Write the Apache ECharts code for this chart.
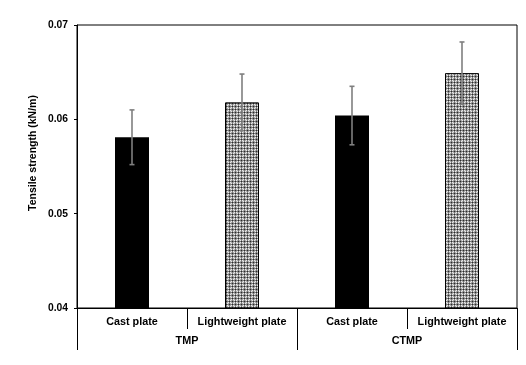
<!DOCTYPE html>
<html>
<head>
<meta charset="utf-8">
<script src="https://cdn.jsdelivr.net/npm/echarts@6/dist/echarts.min.js"></script>
<style>html,body{margin:0;padding:0;background:#fff;}#c{width:526px;height:365px;}</style>
</head>
<body>
<div id="c"></div>
<script>
var categories = ['Cast plate', 'Lightweight plate', 'Cast plate', 'Lightweight plate'];
var groups = ['TMP', 'CTMP'];
var values = [0.0581, 0.0618, 0.0604, 0.0649];
var errors = [0.0029, 0.0030, 0.0031, 0.0033];
var yTicks = [0.04, 0.05, 0.06, 0.07];
var yName = 'Tensile strength (kN/m)';

var FONT = 'Liberation Sans, Arial, sans-serif';

function makePattern() {
  var c = document.createElement('canvas');
  c.width = 6; c.height = 6;
  var ctx = c.getContext('2d');
  for (var i = 0; i < 6; i++) {
    for (var j = 0; j < 6; j++) {
      var col;
      if ((i % 3 === 1) && (j % 3 === 1)) col = '#2a2a2a';
      else if (i % 3 === 1 || j % 3 === 1) col = '#7a7a7a';
      else if ((i + j) % 2 === 0) col = '#e8e8e8';
      else col = '#b0b0b0';
      ctx.fillStyle = col;
      ctx.fillRect(i, j, 1, 1);
    }
  }
  return c;
}
var pattern = { image: makePattern(), repeat: 'repeat' };

var barData = values.map(function (v, i) {
  var light = categories[i].indexOf('Lightweight') === 0;
  return {
    value: v,
    itemStyle: light
      ? { color: pattern, borderColor: '#000', borderWidth: 1 }
      : { color: '#000' }
  };
});
var errData = values.map(function (v, i) { return [i, v - errors[i], v + errors[i]]; });

var chart = echarts.init(document.getElementById('c'), null, { renderer: 'canvas' });
chart.setOption({
  animation: false,
  backgroundColor: '#fff',
  grid: { left: 77, right: 9, top: 25, bottom: 57, show: true, borderColor: '#000', borderWidth: 1 },
  xAxis: [
    {
      type: 'category', data: categories, position: 'bottom',
      axisLine: { show: true, lineStyle: { color: '#000', width: 1 } },
      axisTick: { show: true, length: 21, alignWithLabel: false, lineStyle: { color: '#000', width: 1 } },
      axisLabel: { color: '#000', fontFamily: FONT, fontWeight: 'bold', fontSize: 10.8, margin: 9, interval: 0 },
      splitLine: { show: false }
    },
    {
      type: 'category', data: groups, position: 'bottom', offset: 0,
      axisLine: { show: false },
      axisTick: { show: true, length: 42, alignWithLabel: false, lineStyle: { color: '#000', width: 1 } },
      axisLabel: { color: '#000', fontFamily: FONT, fontWeight: 'bold', fontSize: 10.8, margin: 28, interval: 0 },
      splitLine: { show: false }
    }
  ],
  yAxis: {
    type: 'value', min: yTicks[0], max: yTicks[yTicks.length - 1], interval: 0.01,
    axisLine: { show: true, lineStyle: { color: '#000', width: 1 } },
    axisTick: { show: true, length: 3, lineStyle: { color: '#000' } },
    axisLabel: { color: '#000', fontFamily: FONT, fontWeight: 'bold', fontSize: 10.3, margin: 9,
      formatter: function (v) { return v.toFixed(2); } },
    splitLine: { show: false }
  },
  graphic: [{
    type: 'text', x: 33, y: 153, rotation: Math.PI / 2,
    style: { text: yName, fill: '#000', font: 'bold 10.5px ' + FONT, textAlign: 'center', textVerticalAlign: 'middle' }
  }],
  series: [
    {
      type: 'bar', xAxisIndex: 0, data: barData, barWidth: 34, z: 2
    },
    {
      type: 'custom', xAxisIndex: 0, data: errData, z: 5,
      renderItem: function (params, api) {
        var x = api.value(0);
        var lo = api.coord([x, api.value(1)]);
        var hi = api.coord([x, api.value(2)]);
        var cw = 2.5;
        var st = { stroke: '#7f7f7f', lineWidth: 1.6 };
        return {
          type: 'group',
          children: [
            { type: 'line', shape: { x1: hi[0], y1: hi[1], x2: lo[0], y2: lo[1] }, style: st },
            { type: 'line', shape: { x1: hi[0] - cw, y1: hi[1], x2: hi[0] + cw, y2: hi[1] }, style: st },
            { type: 'line', shape: { x1: lo[0] - cw, y1: lo[1], x2: lo[0] + cw, y2: lo[1] }, style: st }
          ]
        };
      }
    }
  ]
});
</script>
</body>
</html>
